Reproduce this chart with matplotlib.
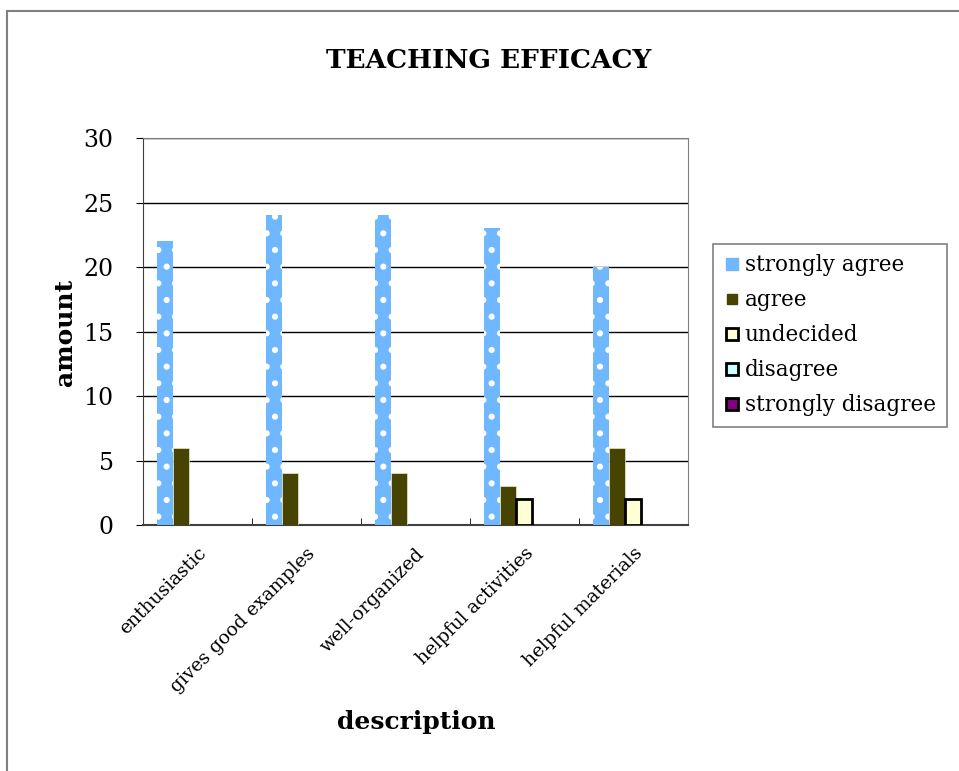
import numpy as np
import matplotlib.pyplot as plt
from matplotlib.lines import Line2D

categories = ["enthusiastic", "gives good examples", "well-organized",
              "helpful activities", "helpful materials"]
series_names = ["strongly agree", "agree", "undecided", "disagree", "strongly disagree"]
strongly_agree = [22, 24, 24, 23, 20]
agree = [6, 4, 4, 3, 6]
undecided = [0, 0, 0, 2, 2]
disagree = [0, 0, 0, 0, 0]
strongly_disagree = [0, 0, 0, 0, 0]

plt.rcParams['font.family'] = ['DejaVu Serif', 'Liberation Serif']
plt.rcParams['hatch.linewidth'] = 2.0

fig = plt.figure(figsize=(9.59, 7.71), dpi=100)
ax = fig.add_axes([0.149, 0.319, 0.568, 0.502])

x = np.arange(len(categories))
w = 0.149
offsets = (np.arange(5) - 2) * w


def outline(vals):
    # no outline for empty bars
    return [2 if v > 0 else 0 for v in vals]


ax.bar(x + offsets[0], strongly_agree, w, color="#6FB7FF", edgecolor="white",
       linewidth=0, hatch=".", zorder=3)
ax.bar(x + offsets[1], agree, w, color="#464400", edgecolor="#e8e8d0", linewidth=0.5, zorder=3)
ax.bar(x + offsets[2], undecided, w, color="#FFFFD5", edgecolor="black",
       linewidth=outline(undecided), zorder=3)
ax.bar(x + offsets[3], disagree, w, color="#CCFFFF", edgecolor="black",
       linewidth=outline(disagree), zorder=3)
ax.bar(x + offsets[4], strongly_disagree, w, color="#800080", edgecolor="black",
       linewidth=outline(strongly_disagree), zorder=3)

ax.set_xlim(-0.5, len(categories) - 0.5)
ax.set_ylim(0, 30)
ax.set_yticks(range(0, 31, 5))
ax.yaxis.grid(True, color="black", linewidth=1)
ax.set_axisbelow(True)
ax.tick_params(axis="y", labelsize=17, length=5, direction="out", pad=16)

ax.set_xticks(x)
ax.set_xticklabels(categories, rotation=45, ha="right", rotation_mode="anchor", fontsize=13.5)
ax.tick_params(axis="x", length=0, pad=14)
ax.set_xticks(np.arange(0.5, len(categories) - 0.5), minor=True)
ax.tick_params(axis="x", which="minor", length=5, direction="in")

for s in ax.spines.values():
    s.set_color("#808080")
ax.spines["left"].set_color("#404040")
ax.spines["bottom"].set_color("#404040")
ax.spines["bottom"].set_linewidth(1.5)

fig.text(0.068, 0.569, "amount", rotation=90, ha="center", va="center",
         fontsize=18, fontweight="bold")
fig.text(0.434, 0.064, "description", ha="center", va="center",
         fontsize=18, fontweight="bold")
fig.text(0.51, 0.922, "TEACHING EFFICACY", ha="center", va="center",
         fontsize=19, fontweight="bold")

handles = [
    Line2D([], [], marker="s", linestyle="", markersize=8, markerfacecolor="#6FB7FF", markeredgecolor="#6FB7FF"),
    Line2D([], [], marker="s", linestyle="", markersize=7, markerfacecolor="#464400", markeredgecolor="#464400"),
    Line2D([], [], marker="s", linestyle="", markersize=9, markerfacecolor="#FFFFD5", markeredgecolor="black", markeredgewidth=2),
    Line2D([], [], marker="s", linestyle="", markersize=9, markerfacecolor="#CCFFFF", markeredgecolor="black", markeredgewidth=2),
    Line2D([], [], marker="s", linestyle="", markersize=9, markerfacecolor="#800080", markeredgecolor="black", markeredgewidth=2),
]
leg = fig.legend(handles, series_names, loc="upper left", bbox_to_anchor=(0.743, 0.684),
                 fontsize=15.5, frameon=True, fancybox=False, handlelength=0.8,
                 handletextpad=0.2, borderpad=0.5, labelspacing=0.6, borderaxespad=0)
leg.get_frame().set_edgecolor("#606060")
leg.get_frame().set_linewidth(1.2)

# outer border (top and left only)
fig.add_artist(Line2D([0.007, 1.0], [0.986, 0.986], color="#808080", linewidth=1.5,
                      transform=fig.transFigure))
fig.add_artist(Line2D([0.007, 0.007], [0.0, 0.986], color="#808080", linewidth=1.5,
                      transform=fig.transFigure))

fig.savefig("out.png", dpi=100)
